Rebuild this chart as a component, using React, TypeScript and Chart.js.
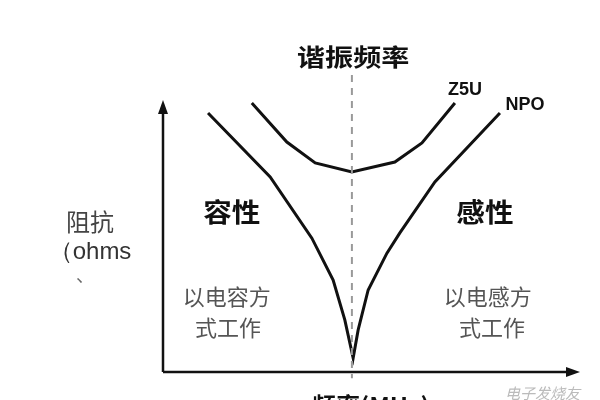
import React, { useEffect, useRef } from 'react';
import { Chart, registerables } from 'chart.js';

Chart.register(...registerables);

// Curve data (x: frequency position 0-100, y: impedance 0-100)
const npoX = [10.8, 25.7, 35.7, 40.8, 43.6, 45.6, 46.8, 49.2, 53.7, 56.8, 65.2, 80.8];
const npoY = [83.0, 62.5, 42.9, 29.5, 16.7, 4.5, 13.5, 26.3, 38.1, 44.6, 60.9, 83.0];
const z5uX = [21.3, 29.7, 36.5, 45.3, 55.6, 62.1, 70.0];
const z5uY = [86.2, 73.7, 67.0, 64.1, 67.3, 73.4, 86.2];
const resonanceX = [45.3, 45.3];
const resonanceY = [95.2, -2];

// Text
const titleText = '谐振频率';
const seriesNames = ['Z5U', 'NPO'];
const regionNames = ['容性', '感性'];
const leftNote = ['以电容方', '式工作'];
const rightNote = ['以电感方', '式工作'];
const yAxisLabel = ['阻抗', '（ohms', '、'];
const xAxisLabel = '频率(MHz)';
const watermark = '电子发烧友';

const toPts = (xs: number[], ys: number[]) => xs.map((x, i) => ({ x, y: ys[i] }));

const overlay = {
  id: 'overlay',
  afterDatasetsDraw(chart: any) {
    const { ctx, scales } = chart;
    const px = (v: number) => scales.x.getPixelForValue(v);
    const py = (v: number) => scales.y.getPixelForValue(v);
    ctx.save();
    // axes with arrows
    const ox = px(0);
    const oy = py(0);
    const top = py(87.2);
    const right = px(100);
    ctx.strokeStyle = '#111';
    ctx.fillStyle = '#111';
    ctx.lineWidth = 2.5;
    ctx.beginPath();
    ctx.moveTo(ox, oy);
    ctx.lineTo(ox, top + 10);
    ctx.moveTo(ox, oy);
    ctx.lineTo(right - 10, oy);
    ctx.stroke();
    ctx.beginPath();
    ctx.moveTo(ox, top);
    ctx.lineTo(ox - 5, top + 14);
    ctx.lineTo(ox + 5, top + 14);
    ctx.closePath();
    ctx.fill();
    ctx.beginPath();
    ctx.moveTo(right, oy);
    ctx.lineTo(right - 14, oy - 5);
    ctx.lineTo(right - 14, oy + 5);
    ctx.closePath();
    ctx.fill();

    const text = (s: string, x: number, y: number, font: string, color: string, sx = 1) => {
      ctx.save();
      ctx.font = font;
      ctx.fillStyle = color;
      ctx.textAlign = 'center';
      ctx.textBaseline = 'middle';
      ctx.translate(px(x), py(y));
      ctx.scale(sx, 1);
      ctx.fillText(s, 0, 0);
      ctx.restore();
    };
    const cjkBold = (n: number) => `bold ${n}px "Noto Sans CJK SC"`;
    const cjk = (n: number) => `${n}px "Noto Sans CJK SC"`;

    text(titleText, 45.6, 101.0, cjkBold(24), '#111', 1.17);
    text(seriesNames[0], 72.4, 90.4, 'bold 18px "Liberation Sans"', '#111');
    text(seriesNames[1], 86.8, 85.6, 'bold 18px "Liberation Sans"', '#111');
    text(regionNames[0], 16.5, 51.3, cjkBold(26), '#111', 1.1);
    text(regionNames[1], 77.2, 51.3, cjkBold(26), '#111', 1.1);
    text(leftNote[0], 15.3, 24.0, cjk(22), '#555');
    text(leftNote[1], 15.6, 14.1, cjk(22), '#555');
    text(rightNote[0], 77.9, 24.0, cjk(22), '#555');
    text(rightNote[1], 78.9, 14.1, cjk(22), '#555');
    text(yAxisLabel[0], -17.5, 48.1, cjk(24), '#444');
    text(yAxisLabel[1], -17.5, 38.5, '24px "Liberation Sans"', '#333');
    text(yAxisLabel[2], -18.7, 31.1, cjk(18), '#666');
    text(xAxisLabel, 49.8, -10.6, cjkBold(23), '#111', 1.05);
    ctx.font = 'italic 15px "Noto Sans CJK SC"';
    ctx.fillStyle = '#bbb';
    ctx.textAlign = 'left';
    ctx.textBaseline = 'middle';
    ctx.fillText(watermark, 505, 393);
    ctx.restore();
  },
};

export default function App() {
  const ref = useRef<HTMLCanvasElement>(null);
  useEffect(() => {
    document.body.style.margin = '0';
    const chart = new Chart(ref.current!, {
      type: 'scatter',
      data: {
        datasets: [
          {
            label: 'resonance',
            data: toPts(resonanceX, resonanceY),
            showLine: true,
            borderColor: '#999',
            borderWidth: 2,
            borderDash: [7, 6],
            pointRadius: 0,
            clip: false as any,
          },
          {
            label: seriesNames[0],
            data: toPts(z5uX, z5uY),
            showLine: true,
            borderColor: '#111',
            borderWidth: 3,
            pointRadius: 0,
            tension: 0,
          },
          {
            label: seriesNames[1],
            data: toPts(npoX, npoY),
            showLine: true,
            borderColor: '#111',
            borderWidth: 3,
            pointRadius: 0,
            tension: 0,
          },
        ],
      },
      options: {
        responsive: false,
        animation: false,
        layout: { padding: { left: 163, right: 20, top: 60, bottom: 28 } },
        plugins: { legend: { display: false }, tooltip: { enabled: false } },
        scales: {
          x: { type: 'linear', min: 0, max: 100, display: false },
          y: { type: 'linear', min: 0, max: 100, display: false },
        },
      },
      plugins: [overlay],
    });
    return () => chart.destroy();
  }, []);
  return (
    <div style={{ position: 'absolute', left: 0, top: 0, width: 600, height: 400, background: '#fff' }}>
      <canvas ref={ref} width={600} height={400} />
    </div>
  );
}
